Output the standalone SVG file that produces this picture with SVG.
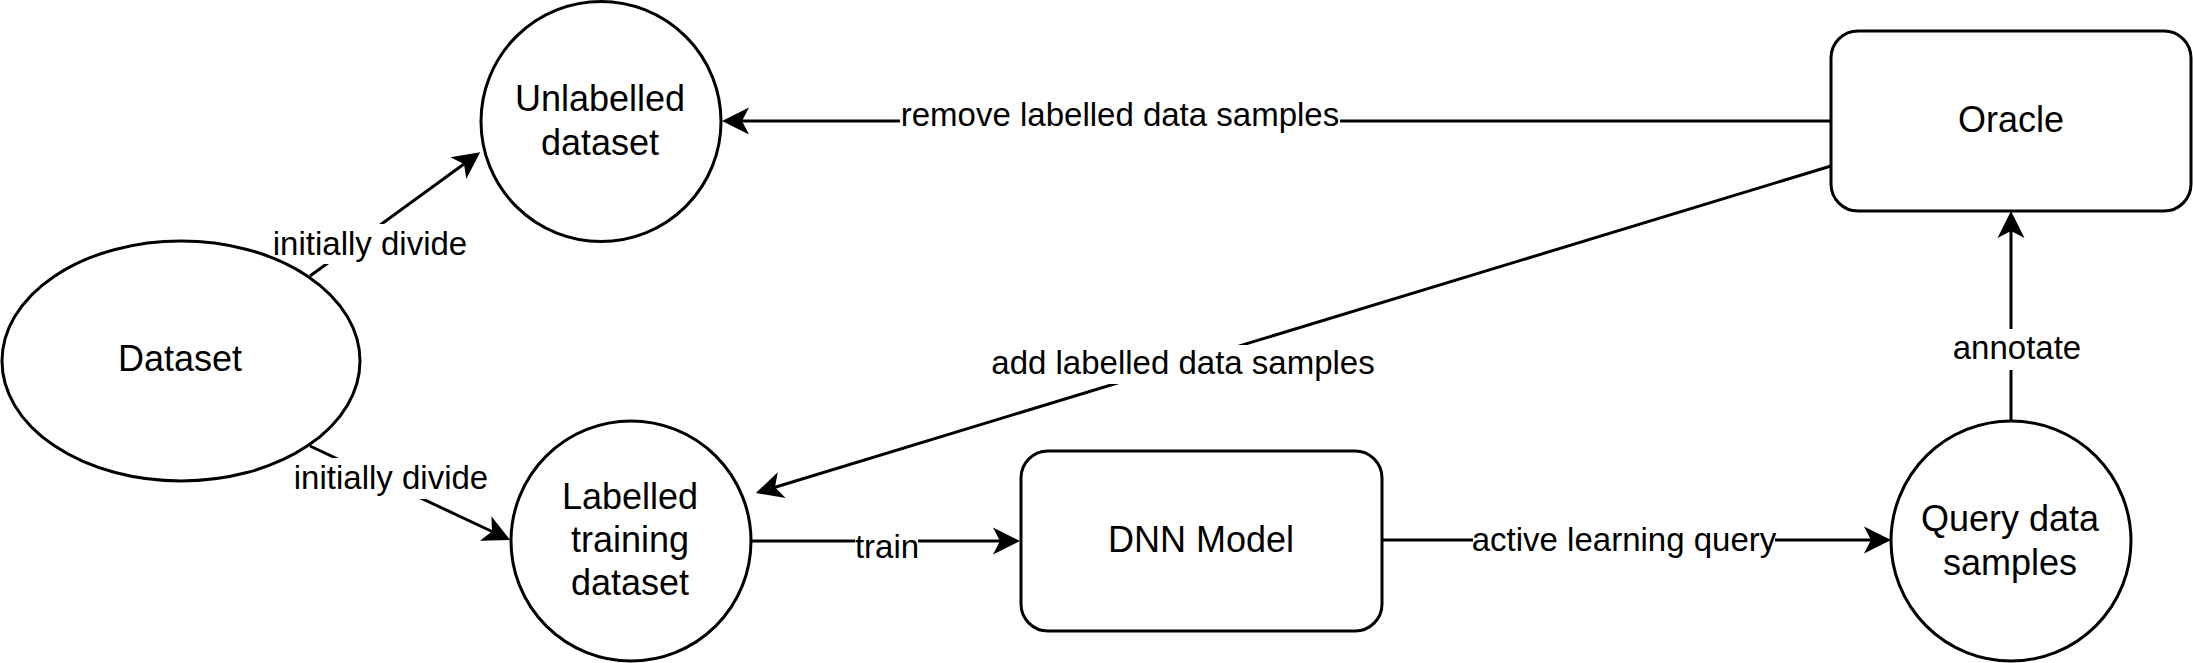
<svg xmlns="http://www.w3.org/2000/svg" width="2193" height="663" viewBox="0 0 2193 663">
  <style>
    .shape { fill: #ffffff; stroke: #000000; stroke-width: 3; }
    .edge { fill: none; stroke: #000000; stroke-width: 3; }
    .node-text { font-family: "Liberation Sans", Arial, Helvetica, sans-serif; font-size: 36px; fill: #000000; text-anchor: middle; }
    .edge-text { font-family: "Liberation Sans", Arial, Helvetica, sans-serif; font-size: 33px; fill: #000000; text-anchor: middle; }
    .label-bg { fill: #ffffff; stroke: none; }
  </style>
  <defs>
    <marker id="arrow" viewBox="-10 -15 35 30" refX="0" refY="0" markerWidth="35" markerHeight="30" markerUnits="userSpaceOnUse" orient="auto">
      <path d="M20,0 L-7,-13.5 L0,0 L-7,13.5 Z" fill="#000000" stroke="none"/>
    </marker>
  </defs>
  <rect x="0" y="0" width="2193" height="663" fill="#ffffff"/>

  <g id="connectors">
    <path class="edge" d="M310,276 L464,164" marker-end="url(#arrow)"/>
    <rect class="label-bg" x="274" y="224" width="192" height="40"/>
    <text class="edge-text" x="370" y="255">initially divide</text>

    <path class="edge" d="M310,446 L492,531.5" marker-end="url(#arrow)"/>
    <rect class="label-bg" x="294" y="458" width="194" height="41"/>
    <text class="edge-text" x="391" y="489">initially divide</text>

    <path class="edge" d="M1831,121 L742,121" marker-end="url(#arrow)"/>
    <rect class="label-bg" x="900" y="97" width="440" height="38"/>
    <text class="edge-text" x="1120" y="126">remove labelled data samples</text>

    <path class="edge" d="M1831,166 L775,487.2" marker-end="url(#arrow)"/>
    <rect class="label-bg" x="992" y="345" width="383" height="39"/>
    <text class="edge-text" x="1183" y="374">add labelled data samples</text>

    <path class="edge" d="M751,541 L1000,541" marker-end="url(#arrow)"/>
    <rect class="label-bg" x="855" y="528" width="63" height="39"/>
    <text class="edge-text" x="887" y="558">train</text>

    <path class="edge" d="M1382,540 L1871,540" marker-end="url(#arrow)"/>
    <rect class="label-bg" x="1473" y="521" width="302" height="39"/>
    <text class="edge-text" x="1624" y="551">active learning query</text>

    <path class="edge" d="M2011,421 L2011,231" marker-end="url(#arrow)"/>
    <rect class="label-bg" x="1953" y="329" width="128" height="41"/>
    <text class="edge-text" x="2017" y="359">annotate</text>
  </g>

  <g id="dataset">
    <ellipse class="shape" cx="181" cy="361" rx="179" ry="120"/>
    <text class="node-text" x="180" y="371">Dataset</text>
  </g>

  <g id="unlabelled-dataset">
    <circle class="shape" cx="601" cy="121.5" r="120"/>
    <text class="node-text" x="600" y="111">Unlabelled</text>
    <text class="node-text" x="600" y="155">dataset</text>
  </g>

  <g id="labelled-training-dataset">
    <circle class="shape" cx="631" cy="541" r="120"/>
    <text class="node-text" x="630" y="509">Labelled</text>
    <text class="node-text" x="630" y="552">training</text>
    <text class="node-text" x="630" y="595">dataset</text>
  </g>

  <g id="dnn-model">
    <rect class="shape" x="1021" y="451" width="361" height="180" rx="27" ry="27"/>
    <text class="node-text" x="1201" y="552">DNN Model</text>
  </g>

  <g id="query-data-samples">
    <circle class="shape" cx="2011" cy="541" r="120"/>
    <text class="node-text" x="2010" y="531">Query data</text>
    <text class="node-text" x="2010" y="575">samples</text>
  </g>

  <g id="oracle">
    <rect class="shape" x="1831" y="31" width="360" height="180" rx="27" ry="27"/>
    <text class="node-text" x="2011" y="132">Oracle</text>
  </g>
</svg>
